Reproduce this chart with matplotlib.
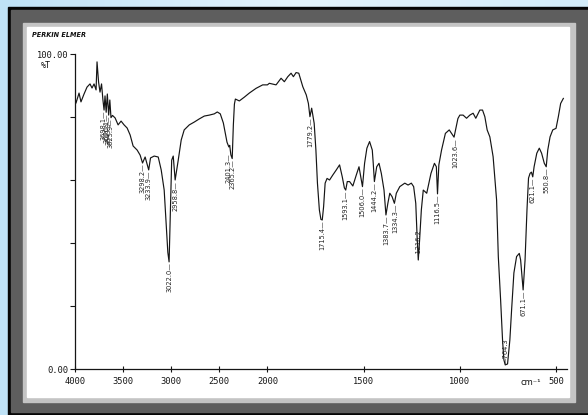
import numpy as np
import matplotlib
matplotlib.use("Agg")
import matplotlib.pyplot as plt
from matplotlib.patches import Rectangle
from matplotlib.colors import LinearSegmentedColormap

# ---------------- data (wavenumber cm-1, %T) ----------------
wn_high = [4000, 3990, 3958, 3938, 3906, 3875, 3844, 3823, 3802, 3781, 3771, 3755,
           3740, 3724, 3710, 3698, 3688, 3676, 3664, 3650, 3638, 3626, 3610, 3583,
           3552, 3521, 3490, 3458, 3427, 3396, 3354, 3323, 3298, 3271, 3234, 3215,
           3177, 3135, 3104, 3073, 3052, 3035, 3022, 3010, 2995, 2979, 2959, 2927,
           2896, 2865, 2812, 2760, 2708, 2656, 2604, 2552, 2521, 2490, 2458, 2438,
           2420, 2401, 2392, 2380, 2366, 2354, 2343, 2333, 2292, 2240, 2188, 2118,
           2049, 2000]
t_high = [86.3, 84.4, 87.6, 84.8, 87.3, 89.5, 90.5, 89.2, 90.5, 88.6, 97.5, 91.1,
          87.9, 90.5, 85.5, 82.2, 86.7, 81.5, 87.3, 80.6, 85.4, 79.8, 80.5, 79.7,
          77.5, 78.7, 77.5, 76.5, 74.3, 70.8, 69.5, 67.9, 65.4, 67.3, 63.2, 67.0,
          67.6, 67.3, 63.2, 56.8, 45.7, 37.0, 34.0, 48.9, 66.3, 67.6, 60.0, 66.3,
          72.7, 75.9, 77.5, 78.4, 79.4, 80.3, 80.6, 81.0, 81.6, 81.0, 78.1, 74.9,
          72.0, 70.5, 71.0, 68.0, 66.8, 77.5, 84.1, 85.7, 85.1, 86.3, 87.6, 89.1,
          90.2, 90.2]

wn_low = [1990, 1955, 1929, 1912, 1894, 1877, 1865, 1851, 1837, 1816, 1798, 1787,
          1779, 1770, 1757, 1748, 1740, 1730, 1722, 1715, 1708, 1700, 1690, 1677,
          1660, 1642, 1625, 1611, 1600, 1593, 1585, 1573, 1556, 1538, 1524, 1506,
          1495, 1483, 1469, 1455, 1450, 1444, 1432, 1420, 1408, 1394, 1384, 1374,
          1364, 1352, 1340, 1330, 1312, 1286, 1269, 1252, 1240, 1229, 1222, 1216,
          1209, 1200, 1190, 1172, 1150, 1132, 1122, 1116, 1109, 1095, 1075, 1055,
          1040, 1030, 1020, 1010, 1000, 983, 965, 948, 931, 917, 896, 882,
          870, 858, 844, 827, 809, 800, 788, 778, 771, 764, 752, 740,
          731, 719, 705, 691, 684, 677, 671, 661, 651, 643, 635, 628,
          621, 614, 600, 587, 575, 561, 551, 543, 531, 517, 500, 488,
          476, 462]
t_low = [90.7, 90.2, 92.3, 91.2, 92.8, 93.9, 92.8, 94.1, 93.9, 89.6, 87.0, 84.3,
         80.1, 82.8, 78.0, 69.5, 59.0, 50.5, 47.5, 47.3, 51.5, 59.0, 60.5, 60.0,
         61.6, 63.2, 64.8, 61.0, 57.5, 56.8, 59.5, 59.5, 58.1, 61.6, 64.2, 57.9,
         65.3, 70.1, 72.2, 69.5, 65.3, 59.5, 64.2, 65.3, 62.1, 56.8, 48.9, 52.6,
         55.8, 54.7, 52.6, 55.8, 57.9, 59.0, 58.4, 59.0, 57.9, 52.6, 42.0, 34.6,
         41.0, 50.5, 56.8, 55.8, 62.1, 65.3, 64.2, 55.6, 64.8, 69.5, 74.8, 75.9,
         74.5, 73.6, 76.5, 79.5, 80.6, 80.6, 79.6, 80.6, 81.2, 79.6, 82.2, 82.2,
         80.1, 75.9, 73.7, 67.4, 53.7, 35.7, 21.9, 9.2, 2.9, 1.3, 1.6, 9.2,
         18.7, 30.5, 35.7, 36.7, 34.6, 29.3, 25.1, 34.6, 50.5, 60.6, 62.1, 62.5,
         61.0, 64.2, 68.5, 70.1, 68.5, 65.3, 64.2, 69.5, 73.7, 75.9, 76.4, 80.1,
         84.3, 85.9]

peak_labels = ["3698.1", "3676.1", "3649.9", "3625.9", "3298.2", "3233.9", "3022.0",
               "2958.8", "2401.3", "2365.2", "1779.2", "1715.4", "1593.1", "1506.0",
               "1444.2", "1383.7", "1334.3", "1216.2", "1116.5", "1023.6", "764.3",
               "671.1", "621.1", "550.8"]
labels_above = ["764.3", "1216.2"]

xtick_values = [4000, 3500, 3000, 2500, 2000, 1500, 1000, 500]
ytick_values = [0, 20, 40, 60, 80, 100]
ytick_labels = ["0.00", "", "", "", "", "100.00"]

wn = np.array(wn_high + wn_low, dtype=float)
tr = np.array(t_high + t_low, dtype=float)

# ---------------- figure ----------------
W, H = 588, 415
fig = plt.figure(figsize=(W / 100, H / 100), dpi=100)

bg = fig.add_axes([0, 0, 1, 1], zorder=-10)
bg.set_xlim(0, W)
bg.set_ylim(H, 0)
bg.axis("off")
grad = np.linspace(0, 1, 256)[None, :]
cmap = LinearSegmentedColormap.from_list("bgb", ["#bfe2f6", "#e4f3fc", "#d3ecf9"])
bg.imshow(grad, extent=[0, W, H, 0], aspect="auto", cmap=cmap, zorder=0)
bg.add_patch(Rectangle((8, 7), 600, 420, color="#050505", zorder=1))
bg.add_patch(Rectangle((11, 10), 600, 402, color="#5e5e5e", zorder=2))
bg.add_patch(Rectangle((23, 23), 552, 379, color="#c4c4c4", zorder=3))
bg.add_patch(Rectangle((27, 27), 542, 370, color="#ffffff", zorder=4))

bg.text(32, 35, "PERKIN ELMER", fontsize=4.7, fontweight="bold", fontstyle="italic",
        va="center", ha="left", color="#111", zorder=5)
bg.text(46, 66, "%T", fontsize=6, family="DejaVu Sans Mono", va="center",
        ha="center", color="#111", zorder=5)
bg.text(531, 382, "cm\u207b\u00b9", fontsize=6, va="center", ha="center",
        color="#111", zorder=5)


def fwd(x):
    x = np.asarray(x, dtype=float)
    return np.where(x >= 2000, x / 500.0, 4.0 + (x - 2000.0) / 250.0)


def inv(v):
    v = np.asarray(v, dtype=float)
    return np.where(v >= 4, v * 500.0, 2000.0 + (v - 4.0) * 250.0)


ax = fig.add_axes([75 / W, 46 / H, 492 / W, 315 / H])
ax.set_facecolor("none")
ax.set_xscale("function", functions=(fwd, inv))
ax.set_xlim(4000, 443)
ax.set_ylim(0, 100)

ax.plot(wn, tr, color="#151515", lw=0.85)

for s in ["top", "right"]:
    ax.spines[s].set_visible(False)
for s in ["left", "bottom"]:
    ax.spines[s].set_linewidth(0.9)
    ax.spines[s].set_color("#151515")

ax.set_xticks(xtick_values)
ax.set_xticklabels([str(v) for v in xtick_values], family="DejaVu Sans Mono",
                   fontsize=6.3)
ax.xaxis.set_minor_locator(matplotlib.ticker.NullLocator())
ax.tick_params(axis="x", direction="inout", length=5, width=0.8, pad=3,
               colors="#151515")
ax.set_yticks(ytick_values)
ax.set_yticklabels(ytick_labels, family="DejaVu Sans Mono", fontsize=6.3)
ax.tick_params(axis="y", direction="out", length=3.5, width=0.8, pad=1,
               colors="#151515")

# peak labels
grid = np.linspace(440, 4000, 20000)
curve = np.interp(grid, wn[::-1], tr[::-1])
for lab in peak_labels:
    v = float(lab)
    win = 18 if v >= 2000 else 9
    m = (grid >= v - win) & (grid <= v + win)
    tmin = curve[m].min()
    if lab in labels_above:
        ax.annotate("\u2014" + lab, xy=(v, tmin), xytext=(0, 0.5),
                    textcoords="offset points", rotation=90, ha="center",
                    va="bottom", fontsize=4.8, color="#222")
    else:
        ax.annotate(lab + "\u2014", xy=(v, tmin), xytext=(0, -0.5),
                    textcoords="offset points", rotation=90, ha="center",
                    va="top", fontsize=4.8, color="#222")

fig.savefig("out.png", dpi=100)
